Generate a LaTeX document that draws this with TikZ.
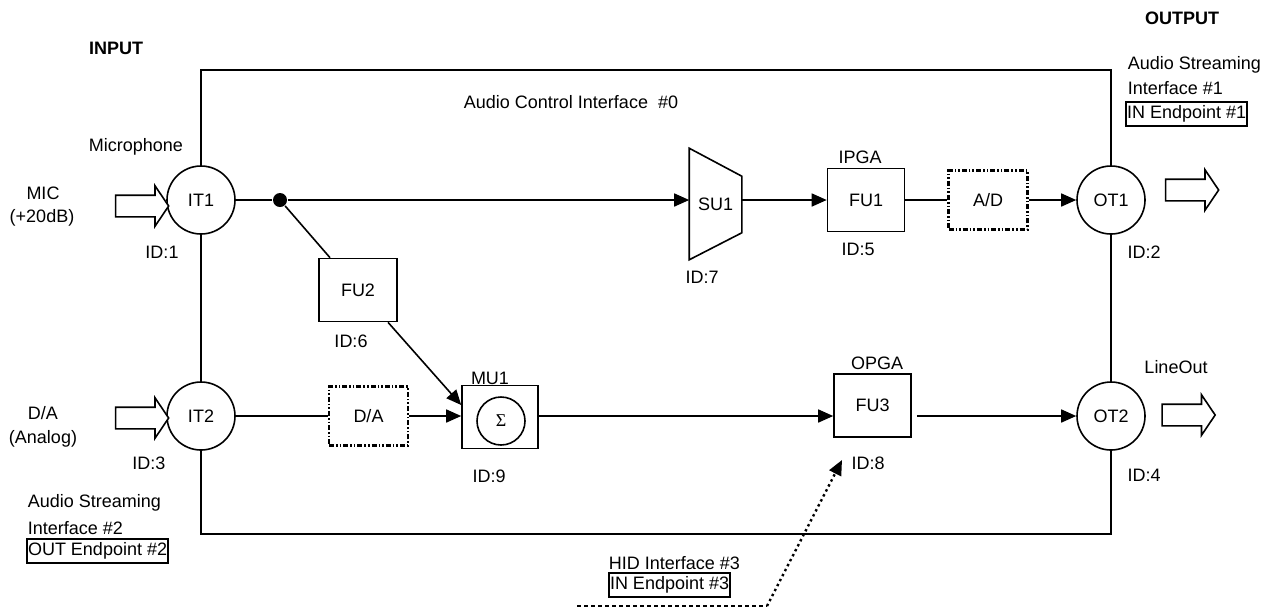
\documentclass[tikz,border=0pt]{standalone}
\usepackage{fontspec}
\setmainfont{Liberation Sans}
\newfontfamily\serifx{Liberation Serif}
\usetikzlibrary{arrows.meta,shapes.arrows,calc}
\begin{document}
\begin{tikzpicture}[x=0.5pt,y=-0.5pt,
  font=\fontsize{9pt}{11pt}\selectfont,
  line width=0.8pt,
  every node/.style={inner sep=0pt},
  term/.style={circle,draw,fill=white,minimum size=34pt},
  unit/.style={rectangle,draw,fill=white,minimum width=38.5pt,minimum height=31.5pt},
  conv/.style={rectangle,draw,fill=white,line width=1.2pt,dash pattern=on 2.5pt off 1pt on 0.8pt off 1pt on 0.8pt off 1pt,minimum width=39.5pt,minimum height=29.5pt},
  blockarrow/.style={single arrow,draw,fill=white,inner xsep=0pt,inner ysep=5pt,minimum height=26.5pt,single arrow head extend=4.75pt,single arrow tip angle=112,single arrow head indent=0pt},
  ep/.style={draw,line width=1pt,inner xsep=0.5pt,inner ysep=2pt},
  sig/.style={-{Triangle[length=7.5pt,width=6.5pt]}},
  heading/.style={font=\fontsize{9pt}{11pt}\selectfont\bfseries},
]
\useasboundingbox (0,0) rectangle (1268,607);

% main interface box
\node[draw,minimum width=455pt,minimum height=232pt] (aci) at (656,302) {};
\node (acilbl) at (571,102) {Audio Control Interface \ \#0};

% headings
\node[heading] (inlbl) at (116,48) {INPUT};
\node[heading] (outlbl) at (1182,18) {OUTPUT};

% terminals
\node[term] (it1) at (201,200) {IT1};
\node[term] (it2) at (201,416) {IT2};
\node[term] (ot1) at (1111,200) {OT1};
\node[term] (ot2) at (1111,416) {OT2};

% units
\node[circle,fill,minimum size=7pt] (dot) at (280,200) {};
\node[minimum width=25.5pt,minimum height=55pt] (su) at (715.5,204) {SU1};
\draw (su.north west) -- ($(su.north east)+(0,28)$) -- ($(su.south east)+(0,-27)$) -- (su.south west) -- cycle;
\node[unit] (fu1) at (866,200) {FU1};
\node[conv] (ad) at (988,200) {A/D};
\node[unit,minimum width=39pt] (fu2) at (358,290) {FU2};
\node[conv] (da) at (368.5,416) {D/A};
\node[unit,minimum width=38pt] (mu1) at (500,417) {};
\node[circle,draw,minimum size=24pt] (sigma) at (501,421) {\serifx\fontsize{9pt}{9pt}\selectfont Σ};
\node[unit] (fu3) at (872.5,405.5) {FU3};

% connectors
\draw (it1) -- (dot);
\draw[sig] (dot) -- (dot -| su.west);
\draw (dot) -- (fu2);
\draw[sig] (su.east |- fu1.west) -- (fu1.west);
\draw (fu1) -- (ad);
\draw[sig] (ad) -- (ot1);
\draw[sig] ($(fu2.south)+(30,0)$) -- ($(mu1.west)+(0,-12)$);
\draw (it2) -- (da);
\draw[sig] (da.east) -- (da.east -| mu1.west);
\draw[sig] (mu1.east |- da.east) -- (da.east -| fu3.west);
\draw[sig] ($(fu3.east |- da.east)+(5,0)$) -- (ot2);

% block arrows
\node[blockarrow] (inmic) at (138.5,206) {};
\node[blockarrow] (inda) at (138.5,418) {};
\node[blockarrow] (outas) at (1188.5,190) {};
\node[blockarrow] (outlo) at (1185,415) {};

% HID connector
\coordinate (hidA) at (577,606);
\coordinate (hidB) at (767,606);
\coordinate (hidT) at (842,460);
\draw[line width=1pt,dash pattern=on 2pt off 1.5pt] (hidA) -- (hidB);
\draw[sig,line width=1.2pt,dash pattern=on 1.2pt off 1.6pt] (hidB) -- (hidT);

% labels
\node (micl) at (136,147) {Microphone};
\node (mic1) at (43,193) {MIC};
\node (mic2) at (42,218) {(+20dB)};
\node (id1) at (162,252) {ID:1};
\node (da1) at (43,413) {D/A};
\node (da2) at (43,439) {(Analog)};
\node (id3) at (149,463) {ID:3};
\node[anchor=west] (as2a) at (27,503) {Audio Streaming};
\node[anchor=west] (as2b) at (27,528) {Interface \#2};
\node[ep,anchor=west] (ep2) at (26,551) {OUT Endpoint \#2};
\node (id6) at (351,341) {ID:6};
\node (mulbl) at (490,378) {MU1};
\node (id9) at (489,476) {ID:9};
\node (id7) at (702,277) {ID:7};
\node (ipga) at (860,157) {IPGA};
\node (id5) at (858,249) {ID:5};
\node (opga) at (877,363) {OPGA};
\node (id8) at (868,463) {ID:8};
\node (id2) at (1144,252) {ID:2};
\node (id4) at (1144,475) {ID:4};
\node (lineout) at (1176,367) {LineOut};
\node[anchor=west] (as1a) at (1127,65) {Audio Streaming};
\node[anchor=west] (as1b) at (1127,88) {Interface \#1};
\node[ep,anchor=west] (ep1) at (1125,114) {IN Endpoint \#1};
\node[anchor=west] (hidl) at (608,563) {HID Interface \#3};
\node[ep,anchor=west] (ep3) at (608,585) {IN Endpoint \#3};
\end{tikzpicture}
\end{document}
